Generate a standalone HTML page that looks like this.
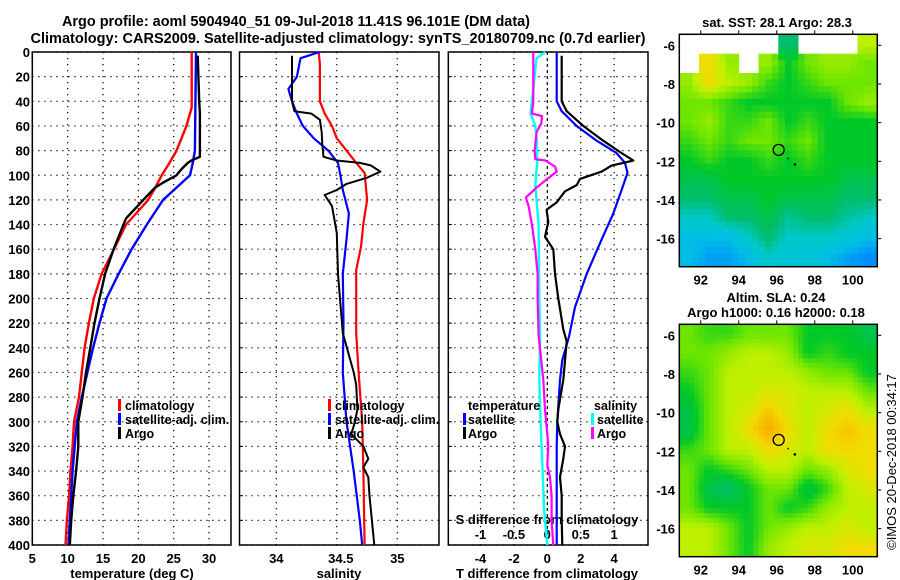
<!DOCTYPE html>
<html><head><meta charset="utf-8"><style>
html,body{margin:0;padding:0;background:#fff;}
svg{display:block;font-family:"Liberation Sans",sans-serif;}
.tk{font-size:13px;font-weight:bold;fill:#000;}
.lg{font-size:12.5px;font-weight:bold;fill:#000;}
</style></head><body>
<svg id="fig" width="900" height="580" viewBox="0 0 900 580" xmlns="http://www.w3.org/2000/svg">
<text x="296" y="26" text-anchor="middle" font-size="14.5" font-weight="bold" textLength="468" lengthAdjust="spacingAndGlyphs">Argo profile: aoml 5904940_51 09-Jul-2018 11.41S 96.101E (DM data)</text>
<text x="338" y="43" text-anchor="middle" font-size="14.5" font-weight="bold" textLength="615" lengthAdjust="spacingAndGlyphs">Climatology: CARS2009. Satellite-adjusted climatology: synTS_20180709.nc (0.7d earlier)</text>
<g id="g1"></g>
<g id="g2"></g>
<g id="g3"></g>
<g id="m1"></g>
<g id="m2"></g>
<text x="777" y="27" text-anchor="middle" class="tk">sat. SST: 28.1 Argo: 28.3</text>
<text x="776" y="302" text-anchor="middle" class="tk">Altim. SLA: 0.24</text>
<text x="776" y="317" text-anchor="middle" class="tk">Argo h1000: 0.16 h2000: 0.18</text>
<text transform="translate(896,462) rotate(-90)" text-anchor="middle" font-size="13">©IMOS 20-Dec-2018 00:34:17</text>
</svg>
<script>
// ---- profile data ----
const tDepthClim = [0,45,50,60,70,80,90,100,110,120,140,160,180,200,220,240,260,280,300,320,340,360,380,400];
const tClim      = [27.55,27.55,27.3,26.8,26.1,25.4,24.4,23.3,22.4,21.4,18.25,16.55,14.8,13.7,13.0,12.4,12.0,11.6,10.9,10.7,10.4,10.2,9.9,9.7];
const tDepthSat  = [0,80,90,100,110,120,140,160,180,200,220,240,260,280,300,320,340,360,380,400];
const tSat       = [28.15,28.0,27.7,27.3,25.4,23.5,21.2,19.05,17.2,15.5,14.5,13.6,12.8,12.0,11.3,11.0,10.7,10.5,10.3,10.1];
const tDepthArgo = [3,40,50,85,88,90,95,100,105,110,120,135,160,180,200,220,240,260,280,300,320,340,360,380,400];
const tArgo      = [28.4,28.6,28.7,28.7,27.5,27.0,26.1,25.4,23.8,22.35,20.7,18.25,16.5,15.3,14.5,13.8,13.2,12.6,12.1,11.5,11.5,11.2,10.8,10.5,10.3];

const sDepthClim = [0,10,40,50,60,70,80,90,98,120,139,158,177,228,260,300,340,400];
const sClim      = [34.35,34.36,34.36,34.40,34.46,34.50,34.58,34.66,34.73,34.75,34.72,34.70,34.66,34.66,34.68,34.71,34.72,34.73];
const sDepthSat  = [0,5,20,30,40,50,60,70,80,90,100,112,131,152,180,220,260,300,340,380,400];
const sSat       = [34.36,34.2,34.17,34.10,34.13,34.17,34.22,34.31,34.43,34.51,34.53,34.55,34.60,34.58,34.55,34.555,34.55,34.58,34.64,34.69,34.71];
const sDepthArgo = [3,40,48,50,55,65,75,85,88,90,92,97,102,107,112,116,125,147,180,228,260,270,290,300,310,320,330,337,345,360,380,400];
const sArgo      = [34.13,34.13,34.15,34.29,34.36,34.375,34.38,34.39,34.5,34.69,34.78,34.86,34.75,34.58,34.5,34.40,34.46,34.50,34.51,34.55,34.64,34.66,34.67,34.65,34.62,34.72,34.76,34.72,34.76,34.77,34.79,34.81];

const dDepthTSat  = [0,40,48,60,72,82,90,98,112,131,152,180,207,231,250,266,300,320,400];
const dTSat       = [0.56,0.56,0.86,1.76,2.96,4.15,4.65,4.8,4.45,3.95,3.26,2.36,1.66,1.3,0.9,0.76,0.6,0.56,0.56];
const dDepthTArgo = [3,40,48,60,72,82,88,90,92,97,103,108,113,122,128,138,150,160,180,200,225,235,266,290,300,310,320,330,345,360,380,400];
const dTArgo      = [0.86,0.86,1.16,2.16,3.35,4.45,5.15,4.55,3.86,3.26,1.96,1.76,1.06,0.56,-0.04,0.06,-0.14,0.36,0.46,0.66,0.96,1.16,0.96,0.66,0.6,0.76,1.06,0.96,0.76,0.86,0.86,0.9];
const dDepthSArgo = [0,40,50,52,58,65,75,80,87,88,93,97,103,110,118,125,140,160,180,200,230,266,290,310,320,335,345,360,380,400];
const dSArgo      = [-0.21,-0.21,-0.23,-0.08,-0.09,-0.16,-0.18,-0.19,-0.18,-0.03,0.115,0.14,0.0,-0.16,-0.32,-0.28,-0.23,-0.18,-0.145,-0.145,-0.13,-0.06,-0.035,0.0,0.015,0.0,0.04,0.065,0.065,0.09];
const dDepthSSat  = [0,5,20,40,50,60,70,90,100,110,120,140,200,230,266,300,340,370,400];
const dSSat       = [-0.03,-0.16,-0.19,-0.23,-0.25,-0.18,-0.16,-0.15,-0.17,-0.18,-0.16,-0.13,-0.12,-0.11,-0.12,-0.1,-0.07,-0.05,0.0];

const depthTicks = [0,20,40,60,80,100,120,140,160,180,200,220,240,260,280,300,320,340,360,380,400];
const tempTicks = [5,10,15,20,25,30];
const salTicks = [34,34.5,35];
const salTickLabels = ['34','34.5','35'];
const dTTicks = [-4,-2,0,2,4];
const dSTicks = [-1,-0.5,0,0.5,1];
const dSTickLabels = ['-1','-0.5','0','0.5','1'];

// ---- map data (values on colour scale 1..9, null = no data) ----
const mapLonTicks = [92,94,96,98,100];
const mapLatTicks = [-6,-8,-10,-12,-14,-16];
const sstGrid = [
 [null,null,null,null,null,4,null,null,null,7],
 [null,8,6.5,null,6.5,5,6,6.5,6.5,6],
 [6.5,8,7,6.5,5.5,5,5.5,6,6,6],
 [6,6,5.5,5,5,5,5,5,6,6.5],
 [6,6.5,5.5,5.5,6,5,5.5,5,5,5],
 [5.5,6,5.5,6,6,5.5,6,5,5,5],
 [5,5.5,5,5,5.5,5,5.5,5,5,5],
 [4.5,4.5,5,5,5,5,5,5,4.5,4.5],
 [4,4,4.5,4.5,5,4.5,4.5,4.5,4,4],
 [3,3,4,4,4.5,3.5,4,4,3.5,3],
 [2,2,2,3,4,3,3,3,2.5,2],
 [2,1.5,1.5,2,3,2.5,2.5,2,1.5,1.2]
];
const slaGrid = [
 [6,5.5,5.5,6,6,6,5,5,5,4.5],
 [6,6,6.5,7,7,6.5,5,5.5,5,5],
 [5.5,6,7,7,7,7,6.5,6,6,5],
 [5,6,7,7,7.5,7.5,7,7,7,6],
 [4.5,6,7,7.5,8.5,7.5,7,7.5,8,7],
 [4.5,6,7,8,9,8,7,8,8.5,8],
 [5.5,6,7,7,8,7.5,7,8,8,8],
 [6,5,5.5,6,7,7,6,6.5,7.5,8],
 [6,4.5,4,5,6,6,4.5,5.5,7,7.5],
 [6,5,5,5,6,5,5.5,6.5,7,7],
 [7,7,6,5,6,6.5,7,7,7.5,7],
 [7,7,6,5,6.5,7,7.5,7.5,8,8]
];
const argoLon = 96.101, argoLat = -11.41;

// ---- helpers ----
const NS='http://www.w3.org/2000/svg';
function mk(tag, attrs, parent){const e=document.createElementNS(NS,tag);for(const k in attrs)e.setAttribute(k,attrs[k]);parent.appendChild(e);return e;}
const TOP=52, BOT=545;
const yD = d => TOP + d*(BOT-TOP)/400;
const xT = t => 32.3 + (t-5)*7.07;
const xS = s => 276.3 + (s-34)*121;
const xdT = t => 547.3 + t*16.7;
const xdS = s => 547.3 + s*66.8;

function frame(g, x0, x1, xs, name){
  for(const d of depthTicks){
    const ln=mk('line',{x1:x0,x2:x1,y1:yD(d),y2:yD(d),stroke:'#000','stroke-width':1.2,'stroke-dasharray':'1.2 4.8'},g);
    
    
  }
  for(const x of xs){
    const ln=mk('line',{x1:x,x2:x,y1:TOP,y2:BOT,stroke:'#000','stroke-width':1.2,'stroke-dasharray':'1.2 4.8'},g);
    
    
  }
  const r=mk('rect',{x:x0,y:TOP,width:x1-x0,height:BOT-TOP,fill:'none',stroke:'#000','stroke-width':1.5},g);
  
  
}
function line(g, xs, ds, fx, color, w, name){
  const pts = xs.map((v,i)=>fx(v).toFixed(1)+','+yD(ds[i]).toFixed(1)).join(' ');
  const p=mk('polyline',{points:pts,fill:'none',stroke:color,'stroke-width':w,'stroke-linejoin':'round'},g);
  
  
}
function txt(g, x, y, s, cls, anchor, name, fill){
  const t=mk('text',{x:x,y:y,'class':cls,'text-anchor':anchor||'start'},g);
  if(fill) t.setAttribute('fill',fill);
  t.textContent=s;
  
  
  return t;
}
function legBar(g,x,y,color){
  const r=mk('rect',{x:x,y:y-11,width:3,height:12,fill:color},g);
  
  
}

// ---- panel 1 ----
const g1=document.getElementById('g1');
frame(g1,32.3,231,tempTicks.slice(1).map(xT),'temp');
for(const d of depthTicks) txt(g1,30,yD(d)+5,String(d),'tk','end','depth-tick-label');
for(const t of tempTicks) txt(g1,xT(t),563,String(t),'tk','middle','temp-tick-label');
txt(g1,132,578,'temperature (deg C)','tk','middle','temp-axis-title');
line(g1,tClim,tDepthClim,xT,'#f00',2.4,'temp-climatology-line');
line(g1,tSat,tDepthSat,xT,'#00f',2.4,'temp-satellite-line');
line(g1,tArgo,tDepthArgo,xT,'#000',2.4,'temp-argo-line');
[['climatology','#f00'],['satellite-adj. clim.','#00f'],['Argo','#000']].forEach((e,i)=>{legBar(g1,118,410+14*i,e[1]);txt(g1,125,410+14*i,e[0],'lg','start','temp-legend-entry');});

// ---- panel 2 ----
const g2=document.getElementById('g2');
frame(g2,239.5,439,salTicks.map(xS),'sal');
for(const d of depthTicks){const l=mk('line',{x1:239.5,x2:243,y1:yD(d),y2:yD(d),stroke:'#000'},g2);}
salTicks.forEach((s,i)=>txt(g2,xS(s)+(i==1?4:0),563,salTickLabels[i],'tk','middle','sal-tick-label'));
txt(g2,339,578,'salinity','tk','middle','sal-axis-title');
line(g2,sClim,sDepthClim,xS,'#f00',2.2,'sal-climatology-line');
line(g2,sSat,sDepthSat,xS,'#00f',2.2,'sal-satellite-line');
line(g2,sArgo,sDepthArgo,xS,'#000',2,'sal-argo-line');
[['climatology','#f00'],['satellite-adj. clim.','#00f'],['Argo','#000']].forEach((e,i)=>{legBar(g2,328,410+14*i,e[1]);txt(g2,335,410+14*i,e[0],'lg','start','sal-legend-entry');});

// ---- panel 3 ----
const g3=document.getElementById('g3');
frame(g3,448.3,648,dTTicks.filter(t=>t!==0).map(xdT),'diff');
{const z=mk('line',{x1:xdT(0),x2:xdT(0),y1:TOP,y2:BOT,stroke:'#000','stroke-width':1.2,'stroke-dasharray':'3 3'},g3);}
for(const d of depthTicks){const l=mk('line',{x1:448.3,x2:452,y1:yD(d),y2:yD(d),stroke:'#000'},g3);}
dTTicks.forEach(t=>txt(g3,xdT(t),563,String(t),'tk','middle','dT-tick-label'));
txt(g3,547,578,'T difference from climatology','tk','middle','dT-axis-title');
txt(g3,547,524,'S difference from climatology','tk','middle','dS-axis-title');
dSTicks.forEach((s,i)=>txt(g3,xdS(s),539,dSTickLabels[i],'tk','middle','dS-tick-label'));
line(g3,dSSat,dDepthSSat,xdS,'#0ff',2.4,'dS-satellite-line');
line(g3,dSArgo,dDepthSArgo,xdS,'#f0f',2.2,'dS-argo-line');
line(g3,dTSat,dDepthTSat,xdT,'#00f',2.2,'dT-satellite-line');
line(g3,dTArgo,dDepthTArgo,xdT,'#000',2.2,'dT-argo-line');
txt(g3,468,410,'temperature','lg','start','legend-temperature-heading');
legBar(g3,463,424,'#00f');txt(g3,468,424,'satellite','lg','start','legend-t-satellite');
legBar(g3,463,438,'#000');txt(g3,468,438,'Argo','lg','start','legend-t-argo');
txt(g3,594,410,'salinity','lg','start','legend-salinity-heading');
legBar(g3,591,424,'#0ff');txt(g3,597,424,'satellite','lg','start','legend-s-satellite');
legBar(g3,591,438,'#f0f');txt(g3,597,438,'Argo','lg','start','legend-s-argo');

// ---- maps ----
const cmap=[[0,90,255],[0,130,255],[0,190,230],[0,200,200],[0,190,110],[0,200,40],[110,230,0],[190,240,0],[240,220,0],[250,170,0]];
function col(v){const i=Math.max(0,Math.min(8.999,v));const a=Math.floor(i),f=i-a;const c0=cmap[a],c1=cmap[a+1];return 'rgb('+c0.map((c,k)=>Math.round(c+(c1[k]-c)*f)).join(',')+')';}
function drawMap(g, top, grid, name, sub){
  const L=679.3,R=877.3,B=top+232.4;
  const lon0=90.87, lonPx=19, latTop=-5.43, latPx=19.33;
  const X=lon=>L+(lon-lon0)*lonPx, Y=lat=>top+(latTop-lat)*latPx;
  const nr=grid.length, nc=grid[0].length, cw=(R-L)/nc, ch=(B-top)/nr;
  const s=sub;
  for(let r=0;r<nr*s;r++)for(let c=0;c<nc*s;c++){
    const fy=(r+0.5)/s-0.5, fx=(c+0.5)/s-0.5;
    const r0=Math.max(0,Math.floor(fy)),r1=Math.min(nr-1,r0+1),c0=Math.max(0,Math.floor(fx)),c1=Math.min(nc-1,c0+1);
    const ty=Math.max(0,Math.min(1,fy-r0)),tx=Math.max(0,Math.min(1,fx-c0));
    const rr=Math.min(nr-1,Math.floor(r/s)),cc=Math.min(nc-1,Math.floor(c/s));
    if(grid[rr][cc]===null) continue;
    const gv=(a,b)=>grid[a][b]===null?grid[rr][cc]:grid[a][b];
    const v=(gv(r0,c0)*(1-tx)+gv(r0,c1)*tx)*(1-ty)+(gv(r1,c0)*(1-tx)+gv(r1,c1)*tx)*ty;
    const e=mk('rect',{x:(L+c*cw/s).toFixed(2),y:(top+r*ch/s).toFixed(2),width:(cw/s+0.4).toFixed(2),height:(ch/s+0.4).toFixed(2),fill:col(v)},g);
    
    
  }
  const fr=mk('rect',{x:L,y:top,width:R-L,height:B-top,fill:'none',stroke:'#000','stroke-width':1.5},g);
  
  
  for(const lon of mapLonTicks){
    const t=mk('line',{x1:X(lon),x2:X(lon),y1:top-4,y2:top,stroke:'#000'},g);
    
    
    txt(g,X(lon),B+18,String(lon),'tk','middle',name+'-lon-label');
  }
  for(const lat of mapLatTicks){
    const t=mk('line',{x1:R,x2:R+4,y1:Y(lat),y2:Y(lat),stroke:'#000'},g);
    
    
    txt(g,675,Y(lat)+5,String(lat),'tk','end',name+'-lat-label');
  }
  const c=mk('circle',{cx:X(argoLon),cy:Y(argoLat),r:5.5,fill:'none',stroke:'#000','stroke-width':1.3},g);
  
  
  const d1=mk('circle',{cx:X(argoLon+0.5),cy:Y(argoLat-0.45),r:0.8,fill:'#000'},g);
  
  
  const d2=mk('circle',{cx:X(argoLon+0.85),cy:Y(argoLat-0.75),r:1.3,fill:'#000'},g);
  
  
}
drawMap(document.getElementById('m1'),34.3,sstGrid,'sst-map',3);
drawMap(document.getElementById('m2'),324.3,slaGrid,'sla-map',4);
</script>
</body></html>
